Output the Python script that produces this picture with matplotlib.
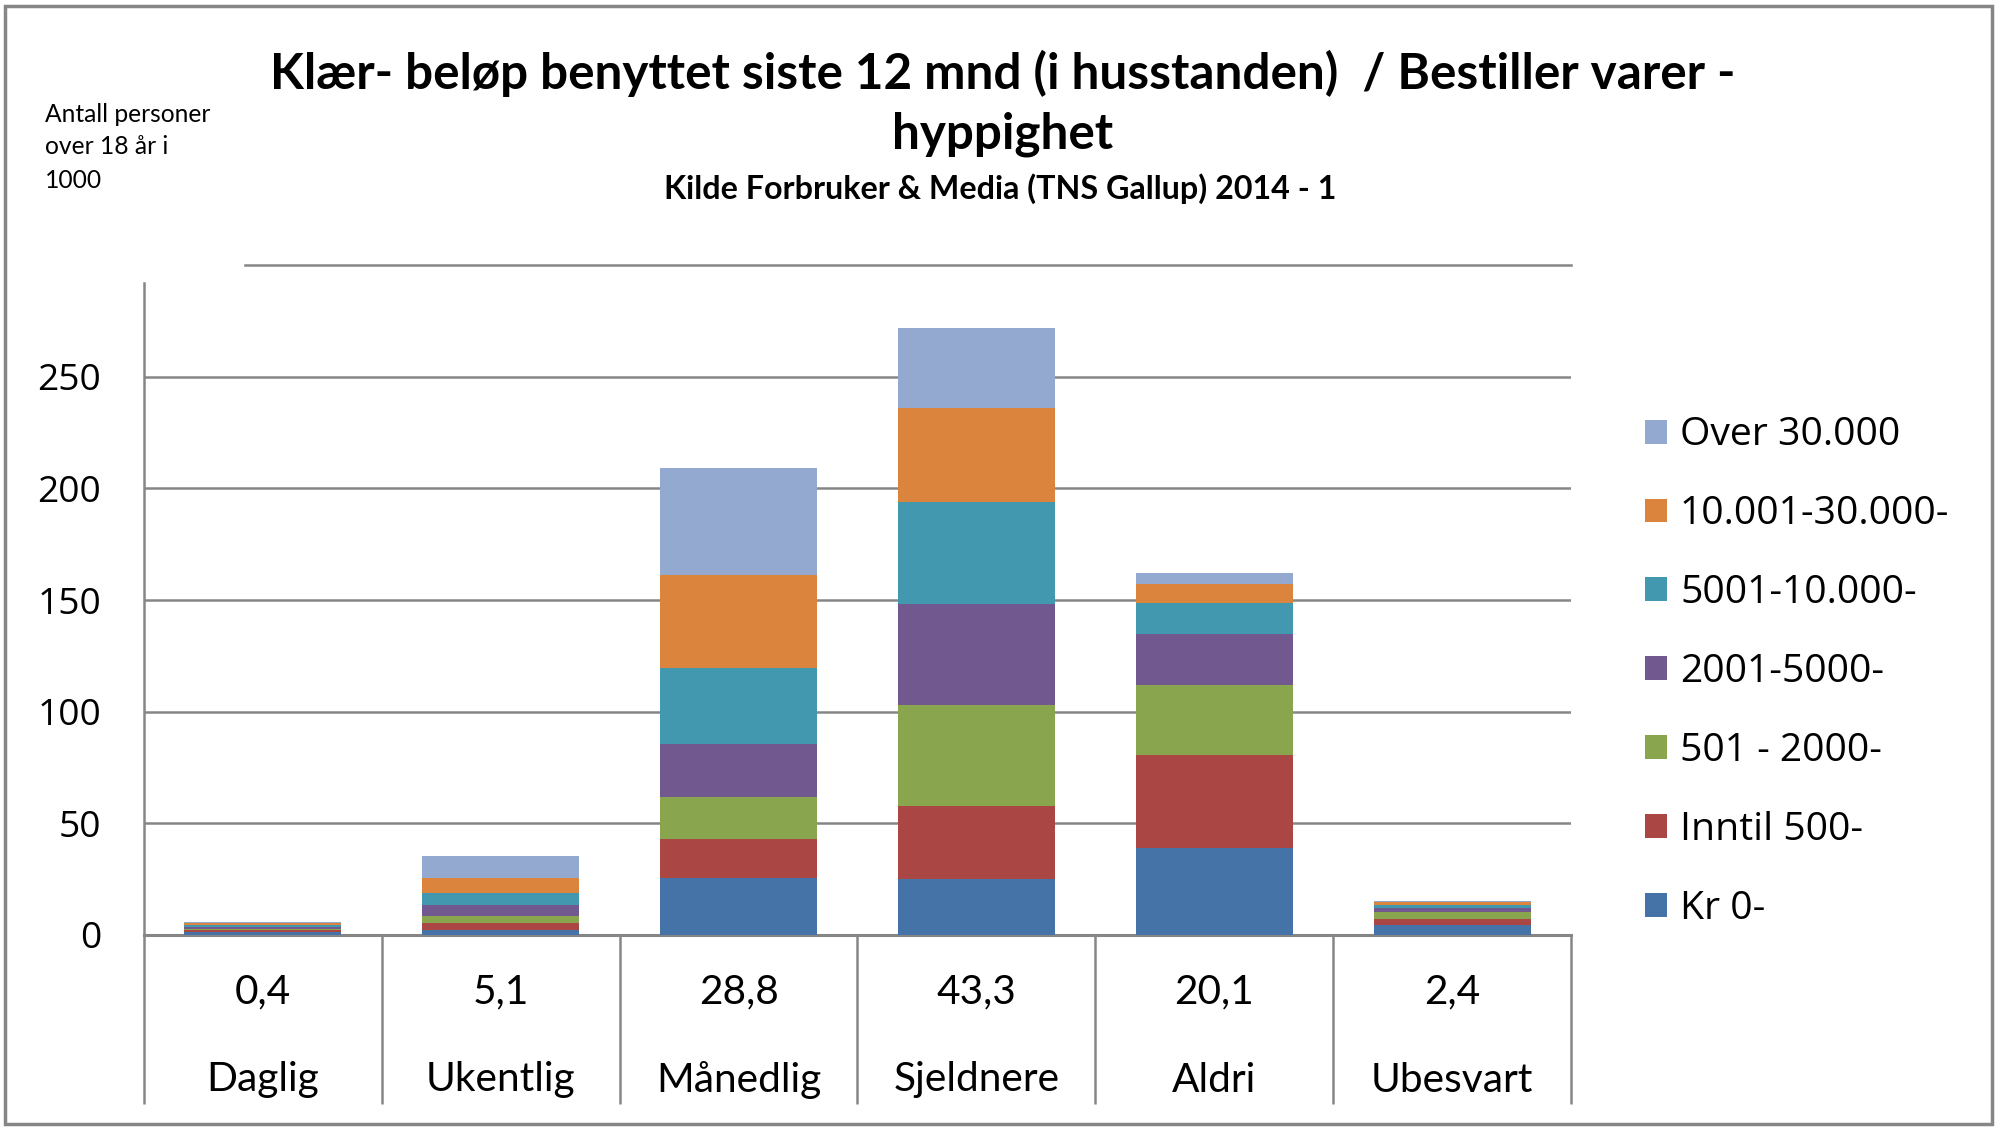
import matplotlib.pyplot as plt
from matplotlib.patches import Rectangle

categories = ["Daglig", "Ukentlig", "Månedlig", "Sjeldnere", "Aldri", "Ubesvart"]
shares = ["0,4", "5,1", "28,8", "43,3", "20,1", "2,4"]

series_names = ["Kr 0-", "Inntil 500-", "501 - 2000-", "2001-5000-",
                "5001-10.000-", "10.001-30.000-", "Over 30.000"]
kr0 = [1.2, 2.1, 25.7, 25.1, 38.9, 4.4]
inntil_500 = [0.9, 3.2, 17.2, 32.6, 41.7, 2.9]
b501_2000 = [0.8, 3.2, 18.8, 45.2, 31.4, 2.9]
b2001_5000 = [0.7, 4.8, 24.0, 45.1, 22.9, 2.0]
b5001_10000 = [0.7, 5.7, 33.7, 45.7, 13.7, 1.1]
b10001_30000 = [1.2, 6.6, 41.7, 42.3, 8.5, 1.4]
over_30000 = [0.3, 9.7, 48.0, 36.0, 5.2, 0.7]
series = [kr0, inntil_500, b501_2000, b2001_5000, b5001_10000, b10001_30000, over_30000]
colors = ["#4572A7", "#AA4643", "#89A54E", "#71588F", "#4198AF", "#DB843D", "#93A9CF"]

yticks = [0, 50, 100, 150, 200, 250]

GRID = "#868686"
W, H = 2000, 1130

fig = plt.figure(figsize=(W / 100, H / 100), dpi=100)
ax = fig.add_axes([144 / W, 1 - 935 / H, 1427 / W, 670 / H])
renderer = fig.canvas.get_renderer()


def fit(t, width_px):
    bb = t.get_window_extent(renderer)
    t.set_fontsize(t.get_fontsize() * width_px / bb.width)


# legend / tick font size from the reference legend text width
probe = fig.text(0, 0, "Over 30.000", fontsize=20, family="Open Sans")
fit(probe, 220)
leg_size = probe.get_fontsize()
probe.remove()

x = list(range(len(categories)))
bottom = [0.0] * len(categories)
handles = []
for vals, name, c in zip(series, series_names, colors):
    b = ax.bar(x, vals, width=0.66, bottom=bottom, color=c, label=name, zorder=3)
    handles.append(b)
    bottom = [bt + v for bt, v in zip(bottom, vals)]

ax.set_xlim(-0.5, len(categories) - 0.5)
ax.set_ylim(0, 300)
ax.set_yticks(yticks)
ax.set_xticks([])
ax.grid(axis="y", color=GRID, linewidth=1.8, zorder=0)
ax.axhline(300, xmin=0.071, xmax=1, color=GRID, linewidth=1.8, clip_on=False)
ax.tick_params(axis="y", length=0, pad=31, labelsize=leg_size * 0.95)
for lab in ax.get_yticklabels():
    lab.set_family("Open Sans")
for s in ["top", "right"]:
    ax.spines[s].set_visible(False)
ax.spines["left"].set_color(GRID)
ax.spines["left"].set_linewidth(1.8)
ax.spines["left"].set_bounds(0, 292)
ax.spines["bottom"].set_color(GRID)
ax.spines["bottom"].set_linewidth(2.2)

# category "table" below the axis
ypx = 670 / 300
for b in [i - 0.5 for i in range(len(categories) + 1)]:
    ax.plot([b, b], [0, -(1104 - 935) / ypx], color=GRID, linewidth=1.8,
            clip_on=False, solid_capstyle="butt")

probe = ax.text(0, 0, "Sjeldnere", fontsize=20, family="Lato")
fit(probe, 167)
cat_size = probe.get_fontsize()
probe.remove()

for i in x:
    ax.text(i, -(992 - 935) / ypx, shares[i], ha="center", va="center",
            fontsize=cat_size, family="Lato")
    ax.text(i, -(1080 - 935) / ypx, categories[i], ha="center", va="center",
            fontsize=cat_size, family="Lato")

# titles
t1 = fig.text(1003 / W, 1 - 73 / H,
              "Klær- beløp benyttet siste 12 mnd (i husstanden)  / Bestiller varer -",
              ha="center", va="center", fontsize=30, family="Lato", weight="bold")
fit(t1, 1463)
fig.text(1003 / W, 1 - 134 / H, "hyppighet", ha="center", va="center",
         fontsize=t1.get_fontsize(), family="Lato", weight="bold")
t3 = fig.text(1000 / W, 1 - 189 / H, "Kilde Forbruker & Media (TNS Gallup) 2014 - 1",
              ha="center", va="center", fontsize=16, family="Lato", weight="bold")
fit(t3, 673)

# side note
note_lines = ["Antall personer", "over 18 år i", "1000"]
n0 = fig.text(45 / W, 1 - 115 / H, note_lines[0], ha="left", va="center",
              fontsize=14, family="Lato")
fit(n0, 166)
for line, yy in zip(note_lines[1:], [147, 180]):
    fig.text(45 / W, 1 - yy / H, line, ha="left", va="center",
             fontsize=n0.get_fontsize(), family="Lato")

em = leg_size * 100 / 72
leg = fig.legend(handles[::-1], series_names[::-1], loc="center left",
                 bbox_to_anchor=(1645 / W, 1 - 672 / H), frameon=False,
                 prop={"family": "Open Sans", "size": leg_size},
                 handlelength=22 / em, handleheight=22 / em, handletextpad=13 / em,
                 labelspacing=80 / em - 1, borderpad=0, borderaxespad=0)

# outer border
fig.patches.append(Rectangle((5 / W, 6 / H), 1987 / W, 1118 / H, transform=fig.transFigure,
                             fill=False, edgecolor=GRID, linewidth=2.5))

fig.savefig("out.png", dpi=100)
